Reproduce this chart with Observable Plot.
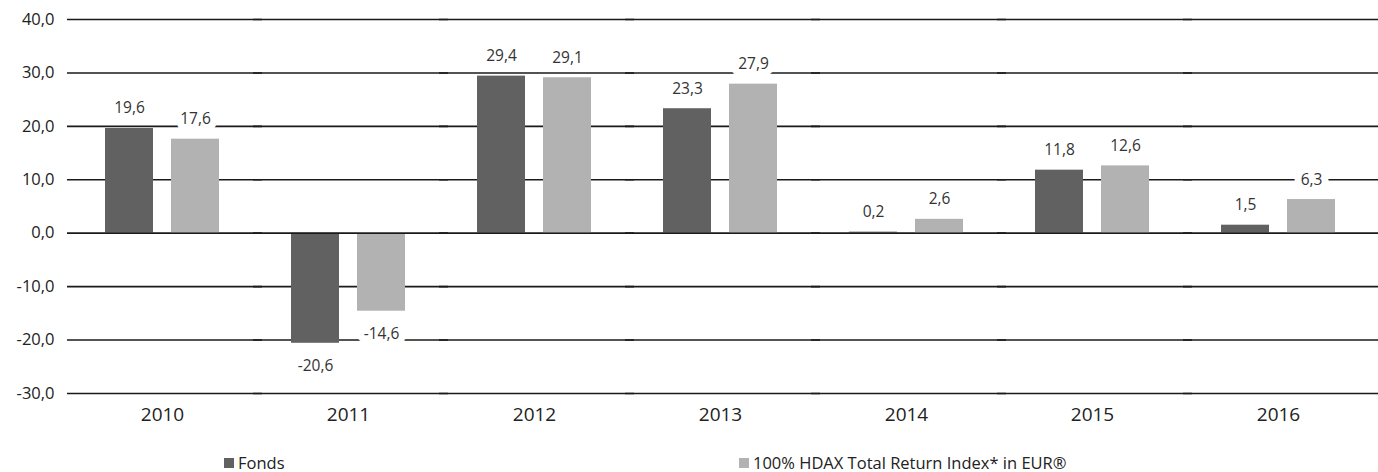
<!DOCTYPE html>
<html>
<head>
<meta charset="utf-8">
<script src="https://cdn.jsdelivr.net/npm/d3@7"></script>
<script src="https://cdn.jsdelivr.net/npm/@observablehq/plot@0.6"></script>
<style>
  html, body { margin: 0; padding: 0; background: #fff; }
  #chart { width: 1378px; }
  .legend { position: relative; width: 1378px; height: 32px; font-family: "Open Sans", sans-serif; font-size: 16.5px; line-height: 18px; color: #222; }
  .legend .item { position: absolute; top: 14px; height: 18px; display: flex; align-items: center; white-space: nowrap; }
  .legend .sw { width: 10px; height: 10px; margin-right: 4px; display: inline-block; }
</style>
</head>
<body>
<div id="chart"></div>
<script>
const years = ["2010", "2011", "2012", "2013", "2014", "2015", "2016"];
const fonds = [19.6, -20.6, 29.4, 23.3, 0.2, 11.8, 1.5];
const hdax = [17.6, -14.6, 29.1, 27.9, 2.6, 12.6, 6.3];
const seriesNames = ["Fonds", "100% HDAX Total Return Index* in EUR®"];
const seriesColors = ["#616161", "#b2b2b2"];
const yTicks = [-30, -20, -10, 0, 10, 20, 30, 40];

const data = years.flatMap((y, i) => [
  {year: y, series: seriesNames[0], value: fonds[i]},
  {year: y, series: seriesNames[1], value: hdax[i]}
]);
const fmt = v => v.toFixed(1).replace(".", ",");

const plot = Plot.plot({
  width: 1378,
  height: 440,
  marginLeft: 69,
  marginRight: 7,
  marginTop: 19,
  marginBottom: 47,
  style: {fontFamily: "'Open Sans', sans-serif", fontSize: "15px", color: "#222", background: "#fff"},
  fx: {domain: years, padding: 0, label: null},
  x: {domain: seriesNames, paddingInner: 0.2727, paddingOuter: 0.545, axis: null},
  y: {domain: [-30, 40], label: null},
  color: {domain: seriesNames, range: seriesColors},
  marks: [
    Plot.ruleY(yTicks, {stroke: "#1a1a1a", strokeWidth: 1.6, insetLeft: -2, insetRight: -7}),
    Plot.barY(data, {fx: "year", x: "series", y: "value", fill: "series"}),
    Plot.ruleY([0], {stroke: "#1a1a1a", strokeWidth: 1.6, insetLeft: -2, insetRight: -7}),
    Plot.text(data.filter(d => d.value >= 0), {
      fx: "year", x: "series", y: "value", text: d => fmt(d.value),
      dy: -20, fill: "#333", stroke: "white", strokeWidth: 14, fontSize: 15.5
    }),
    Plot.text(data.filter(d => d.value < 0), {
      fx: "year", x: "series", y: "value", text: d => fmt(d.value),
      dy: 23, fill: "#333", stroke: "white", strokeWidth: 14, fontSize: 15.5
    }),
    Plot.axisY({ticks: yTicks, tickFormat: fmt, tickSize: 0, tickPadding: 15, fontSize: 16.5, label: null, fill: "#222"}),
    Plot.axisFx({anchor: "bottom", tickSize: 0, tickPadding: 14, fontSize: 19, label: null, fill: "#222"})
  ]
});
document.getElementById("chart").appendChild(plot);

const legend = document.createElement("div");
legend.className = "legend";
const lefts = [224, 739];
seriesNames.forEach((name, i) => {
  const item = document.createElement("div");
  item.className = "item";
  item.style.left = lefts[i] + "px";
  const sw = document.createElement("span");
  sw.className = "sw";
  sw.style.background = seriesColors[i];
  const t = document.createElement("span");
  t.textContent = name;
  item.appendChild(sw);
  item.appendChild(t);
  legend.appendChild(item);
});
document.body.appendChild(legend);
</script>
</body>
</html>
